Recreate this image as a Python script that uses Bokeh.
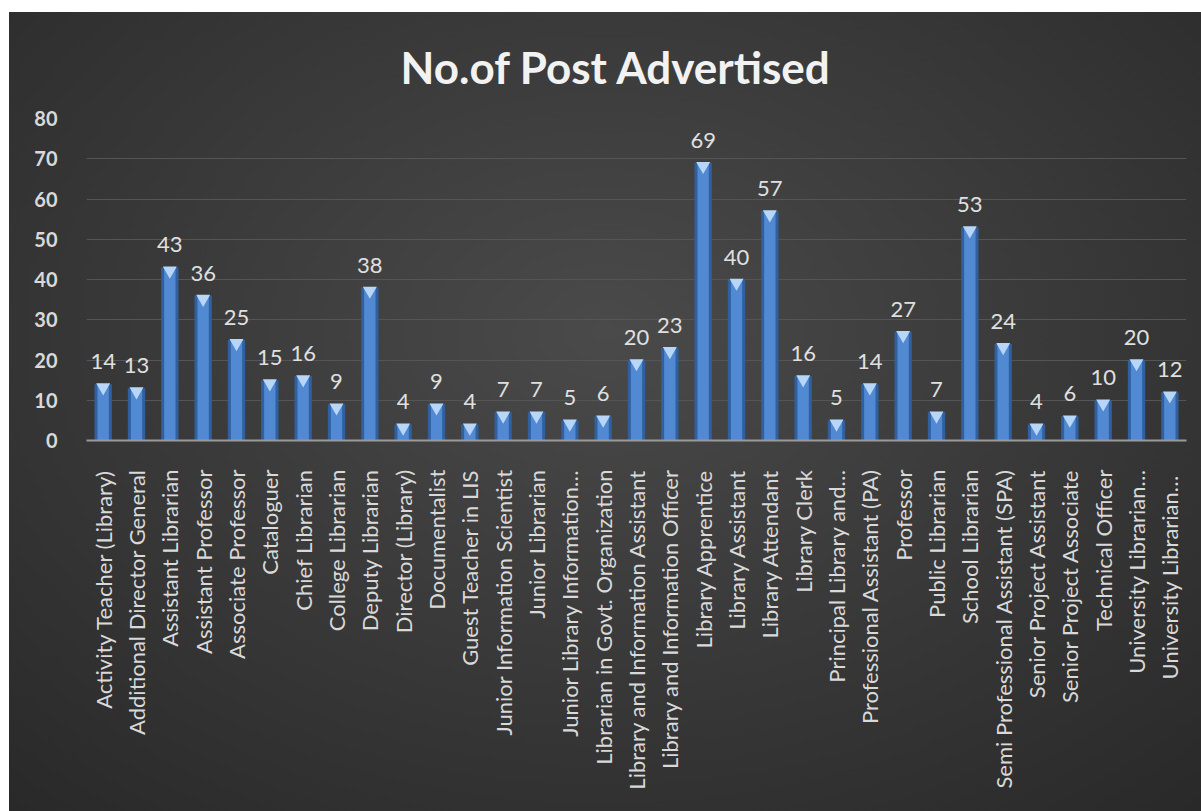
import math
from bokeh.plotting import figure
from bokeh.models import InlineStyleSheet, FixedTicker, ColumnDataSource, LabelSet
from bokeh.core.properties import value
from bokeh.embed import file_html
from bokeh.resources import INLINE

categories = [
    "Activity Teacher (Library)", "Additional Director General", "Assistant Librarian",
    "Assistant Professor", "Associate Professor", "Cataloguer", "Chief Librarian",
    "College Librarian", "Deputy Librarian", "Director (Library)", "Documentalist",
    "Guest Teacher in LIS", "Junior Information Scientist", "Junior Librarian",
    "Junior Library Information…", "Librarian in Govt. Organization",
    "Library and Information Assistant", "Library and Information Officer",
    "Library Apprentice", "Library Assistant", "Library Attendant", "Library Clerk",
    "Principal Library and…", "Professional Assistant (PA)", "Professor",
    "Public Librarian", "School Librarian", "Semi Professional Assistant (SPA)",
    "Senior Project Assistant", "Senior Project Associate", "Technical Officer",
    "University Librarian…", "University Librarian… ",
]
posts = [14, 13, 43, 36, 25, 15, 16, 9, 38, 4, 9, 4, 7, 7, 5, 6, 20, 23, 69, 40, 57,
         16, 5, 14, 27, 7, 53, 24, 4, 6, 10, 20, 12]
y_ticks = [0, 10, 20, 30, 40, 50, 60, 70, 80]
title_text = "No.of Post Advertised"

FONT = "Lato"
src = ColumnDataSource(data=dict(cat=categories, v=posts,
                                 tip=[p - 0.8 for p in posts],
                                 lbl=[str(p) for p in posts]))

p = figure(width=1192, height=799, x_range=categories, y_range=(0, 80),
           output_backend="svg", toolbar_location=None,
           min_border_left=77, min_border_right=15, min_border_top=105,
           min_border_bottom=371)
p.margin = (12, 0, 0, 9)
p.border_fill_color = None
p.background_fill_color = None
p.outline_line_color = None
p.stylesheets = [InlineStyleSheet(css=":host { background: radial-gradient(ellipse 75% 80% at 50% 40%, #4a4a4a 0%, #3b3b3b 45%, #292929 100%); }")]

p.title.text = title_text
p.title.align = "left"
p.title.text_font = FONT
p.title.text_font_size = "44px"
p.title.text_font_style = "bold"
p.title.text_color = "#f2f2f2"
p.title.offset = 314
p.title.standoff = 52

# bars: darker outer body with lighter inner highlight
p.vbar(x="cat", top="v", width=0.52, source=src, fill_color="#30609f", line_color=None)
p.vbar(x="cat", top="v", width=0.34, source=src, fill_color="#5189d2", line_color=None)
p.scatter(x="cat", y="tip", source=src, marker="inverted_triangle", size=14,
          fill_color="#b8d7f8", line_color=None)

labels = LabelSet(x="cat", y="v", text="lbl", source=src, y_offset=15,
                  text_align="center", text_baseline="bottom",
                  text_font=value(FONT), text_font_size="22px",
                  text_font_style="normal", text_color="#e0e0e0")
p.add_layout(labels)

p.yaxis.ticker = FixedTicker(ticks=y_ticks)
p.yaxis.axis_line_color = None
p.yaxis.major_tick_line_color = None
p.yaxis.minor_tick_line_color = None
p.yaxis.major_label_standoff = 23
p.yaxis.major_label_text_font = FONT
p.yaxis.major_label_text_font_size = "20px"
p.yaxis.major_label_text_font_style = "bold"
p.yaxis.major_label_text_color = "#d9d9d9"

p.xaxis.axis_line_color = "#9a9a9a"
p.xaxis.axis_line_width = 2
p.xaxis.major_tick_line_color = None
p.xaxis.minor_tick_line_color = None
p.xaxis.major_label_orientation = math.pi / 2
p.xaxis.major_label_standoff = 23
p.xaxis.major_label_text_font = FONT
p.xaxis.major_label_text_font_size = "22px"
p.xaxis.major_label_text_color = "#d9d9d9"

p.xgrid.grid_line_color = None
p.ygrid.grid_line_color = "#555555"
p.ygrid.grid_line_width = 1

open("out.html", "w").write(file_html(p, INLINE))
